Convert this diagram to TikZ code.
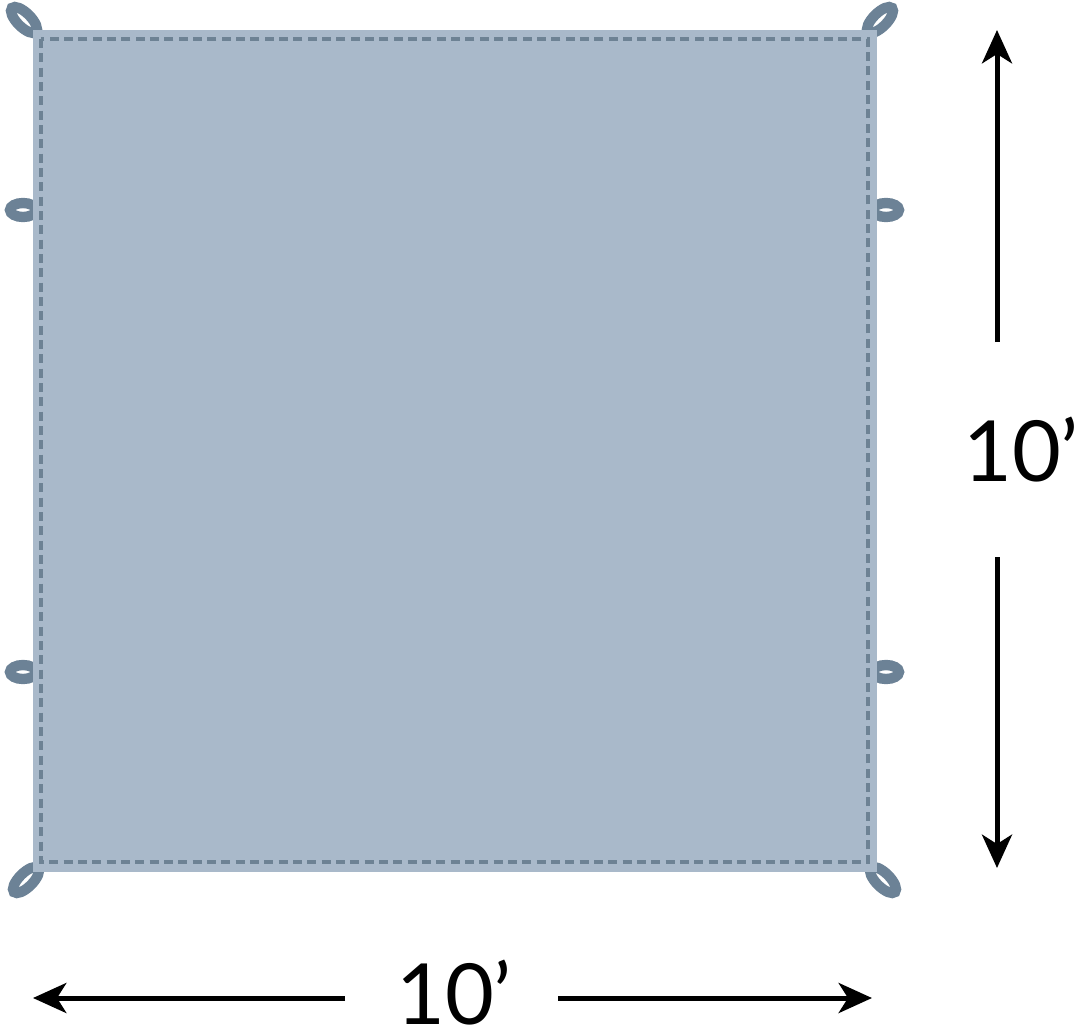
\documentclass[tikz,border=0pt]{standalone}
\usepackage{fontspec}
\setmainfont{Lato}
\usetikzlibrary{arrows.meta,positioning}
\definecolor{tarpfill}{HTML}{A9B9CA}
\definecolor{tarpseam}{HTML}{6D8294}
\definecolor{tarploop}{HTML}{6C8296}
\tikzset{
  eyelet/.style={draw=tarploop, line width=3.1mm},
  seam/.style={draw=tarpseam, line width=1mm, dash pattern=on 2.7mm off 1.6mm},
  dimarrow/.style={-{Stealth[length=10mm,width=9mm,inset=2.8mm]}, line width=1.5mm},
  dimlabel/.style={font=\fontsize{72}{78}\selectfont, inner sep=0pt, text depth=0pt, anchor=base}
}
\begin{document}
\begin{tikzpicture}[x=0.3mm,y=-0.3mm]
      \useasboundingbox (0,0) rectangle (1085,1034);
      % eyelets at the corners and sides
      \draw[eyelet,rotate around={-45:(24,20)}] (24,20) ellipse (17 and 7);
      \draw[eyelet,rotate around={45:(880,20)}] (880,20) ellipse (17 and 7);
      \draw[eyelet,rotate around={45:(26,880)}] (26,880) ellipse (17 and 7);
      \draw[eyelet,rotate around={-45:(883,880)}] (883,880) ellipse (17 and 7);
      \draw[eyelet] (23,210) ellipse (13 and 7);
      \draw[eyelet] (23,672) ellipse (13 and 7);
      \draw[eyelet] (886,210) ellipse (13 and 7);
      \draw[eyelet] (886,672) ellipse (13 and 7);
      % tarp
      \node[fill=tarpfill, inner sep=0pt, minimum width=844*0.3mm, minimum height=842*0.3mm] (tarp) at (455,451) {};
      \draw[seam] (41,39) rectangle (868,862);
      % dimensions
      \node[dimlabel] at (1021,481) (hlen) {10’};
      \node[dimlabel] at (454,1024) (wlen) {10’};
      \coordinate (vtopA) at (997,342);
      \coordinate (vtopB) at (997,30);
      \coordinate (vbotA) at (997,557);
      \coordinate (vbotB) at (997,868);
      \coordinate (hlftA) at (345,998);
      \coordinate (hlftB) at (33,998);
      \coordinate (hrgtA) at (558,998);
      \coordinate (hrgtB) at (872,998);
      \draw[dimarrow] (vtopA) -- (vtopB);
      \draw[dimarrow] (vbotA) -- (vbotB);
      \draw[dimarrow] (hlftA) -- (hlftB);
      \draw[dimarrow] (hrgtA) -- (hrgtB);
\end{tikzpicture}
\end{document}
